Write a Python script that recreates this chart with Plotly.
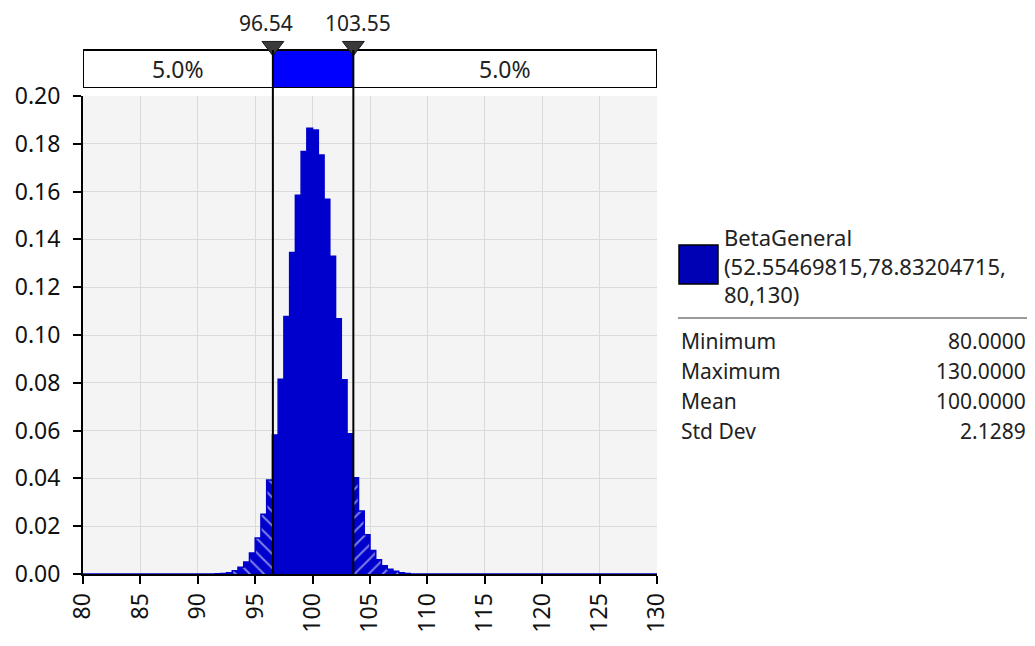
import plotly.graph_objects as go

# Fitted distribution: BetaGeneral(52.55469815, 78.83204715, 80, 130)
x_min, x_max = 80, 130
bin_width = 0.5

# density per 0.5-wide bin (left edge -> height)
bin_left = [90.5, 91.0, 91.5, 92.0, 92.5, 93.0, 93.5, 94.0, 94.5, 95.0,
            95.5, 96.0, 96.5, 97.0, 97.5, 98.0, 98.5, 99.0, 99.5, 100.0,
            100.5, 101.0, 101.5, 102.0, 102.5, 103.0, 103.5, 104.0, 104.5, 105.0,
            105.5, 106.0, 106.5, 107.0, 107.5, 108.0, 108.5]
density = [0.0000, 0.0000, 0.0001, 0.0002, 0.0005, 0.0014, 0.0028, 0.0050, 0.0088, 0.0151,
           0.0250, 0.0393, 0.0582, 0.0815, 0.1077, 0.1345, 0.1585, 0.1768, 0.1865, 0.1858,
           0.1753, 0.1568, 0.1330, 0.1068, 0.0813, 0.0587, 0.0403, 0.0264, 0.0164, 0.0098,
           0.0060, 0.0034, 0.0020, 0.0011, 0.0005, 0.0002, 0.0000]

# delimiters and tail probabilities
left_cut, right_cut = 96.54, 103.55
left_pct, right_pct = "5.0%", "5.0%"

dist_name = ["BetaGeneral", "(52.55469815,78.83204715,", "80,130)"]
stat_names = ["Minimum", "Maximum", "Mean", "Std Dev"]
stat_values = ["80.0000", "130.0000", "100.0000", "2.1289"]

FONT = "Noto Sans"
FS = 23
BLUE = "#0000CD"
TXT = "#222"

# full step outline from 80 to 130
xs = [x_min] + bin_left + [bin_left[-1] + bin_width, x_max]
ys = [0.0] + density + [0.0, 0.0]


def value_at(x):
    for i in range(len(xs) - 1):
        if xs[i] <= x < xs[i + 1]:
            return ys[i]
    return 0.0


def step_segment(lo, hi):
    sx = [lo] + [x for x in xs if lo < x < hi] + [hi]
    sy = [value_at(x) for x in sx[:-1]] + [value_at(sx[-2])]
    return sx, sy


fig = go.Figure()

lx, ly = step_segment(x_min, left_cut)
cx, cy = step_segment(left_cut, right_cut)
rx, ry = step_segment(right_cut, x_max)

hatch = dict(bgcolor=BLUE, fgcolor="white", size=10, solidity=0.2)
fig.add_trace(go.Scatter(x=lx, y=ly, mode="lines", line=dict(color=BLUE, width=1.5, shape="hv"),
                         fill="tozeroy", fillcolor=BLUE, fillpattern=dict(shape="\\", **hatch),
                         showlegend=False, hoverinfo="skip"))
fig.add_trace(go.Scatter(x=rx, y=ry, mode="lines", line=dict(color=BLUE, width=1.5, shape="hv"),
                         fill="tozeroy", fillcolor=BLUE, fillpattern=dict(shape="/", **hatch),
                         showlegend=False, hoverinfo="skip"))
fig.add_trace(go.Scatter(x=cx, y=cy, mode="lines", line=dict(color=BLUE, width=1.5, shape="hv"),
                         fill="tozeroy", fillcolor=BLUE, showlegend=False, hoverinfo="skip"))

# the page body has an 8px margin, so the figure is made 8px smaller
W, H = 1027, 638
PLOT_BOTTOM, PLOT_TOP = 574, 20
PLOT_LEFT, PLOT_RIGHT = 83, 657
BAND_TOP, BAND_BOTTOM, MARK_TOP = 50, 88, 36


def py(y):
    return (PLOT_BOTTOM - y) / (PLOT_BOTTOM - PLOT_TOP)


def px(x):
    return (x - PLOT_LEFT) / (PLOT_RIGHT - PLOT_LEFT)


# band axis: 0..1 is the band itself, the rest above holds the delimiter markers
band_top_val = (BAND_BOTTOM - MARK_TOP) / (BAND_BOTTOM - BAND_TOP)

fig.add_trace(go.Scatter(x=[left_cut, right_cut], y=[1.1, 1.1], xaxis="x", yaxis="y2", mode="markers",
                         marker=dict(symbol="triangle-down", size=19, color="#3a3a3a",
                                     line=dict(color="#1a1a1a", width=1)),
                         cliponaxis=False, showlegend=False, hoverinfo="skip"))

shapes = [
    # white out the band subplot, then the probability band
    dict(type="rect", xref="x", yref="y2", x0=x_min, x1=x_max, y0=0, y1=band_top_val,
         fillcolor="white", line=dict(width=0), layer="between"),
    dict(type="rect", xref="x", yref="y2", x0=left_cut, x1=right_cut, y0=0, y1=1,
         fillcolor="#0000FF", line=dict(width=0), layer="between"),
    dict(type="rect", xref="x", yref="y2", x0=x_min, x1=x_max, y0=0, y1=1,
         fillcolor="rgba(0,0,0,0)", line=dict(color="black", width=2), layer="between"),
]
for c in [left_cut, right_cut]:
    shapes.append(dict(type="line", xref="x", yref="paper", x0=c, x1=c, y0=0, y1=py(BAND_TOP),
                       line=dict(color="black", width=2)))

# legend swatch and divider
shapes.append(dict(type="rect", xref="paper", yref="paper", x0=px(679), x1=px(718), y0=py(284), y1=py(245),
                   fillcolor="#0000B4", line=dict(color="black", width=1.5)))
shapes.append(dict(type="line", xref="paper", yref="paper", x0=px(678), x1=px(1035), y0=py(318), y1=py(318),
                   line=dict(color="#9a9a9a", width=2)))

annotations = [
    dict(x=left_cut, y=py(23), xref="x", yref="paper", text=f"{left_cut:.2f}", showarrow=False,
         xanchor="center", yanchor="middle", xshift=-7, font=dict(size=FS - 2, color=TXT)),
    dict(x=right_cut, y=py(23), xref="x", yref="paper", text=f"{right_cut:.2f}", showarrow=False,
         xanchor="center", yanchor="middle", xshift=5, font=dict(size=FS - 2, color=TXT)),
    dict(x=(x_min + left_cut) / 2, y=0.5, xref="x", yref="y2", text=left_pct, showarrow=False,
         xanchor="center", yanchor="middle", font=dict(size=FS, color=TXT)),
    dict(x=(right_cut + x_max) / 2, y=0.5, xref="x", yref="y2", text=right_pct, showarrow=False,
         xanchor="center", yanchor="middle", font=dict(size=FS, color=TXT)),
    # distribution name, one block of wrapped text
    dict(x=px(722), y=py(265), xref="paper", yref="paper", text="<br>".join(dist_name),
         showarrow=False, xanchor="left", yanchor="middle", align="left",
         font=dict(size=FS - 1, color=TXT)),
]
for i, (n, v) in enumerate(zip(stat_names, stat_values)):
    annotations.append(dict(x=px(679), y=py(341 + 30 * i), xref="paper", yref="paper", text=n,
                            showarrow=False, xanchor="left", yanchor="middle",
                            font=dict(size=FS - 2, color=TXT)))
    annotations.append(dict(x=px(1028), y=py(341 + 30 * i), xref="paper", yref="paper", text=v,
                            showarrow=False, xanchor="right", yanchor="middle",
                            font=dict(size=FS - 2, color=TXT)))

fig.update_layout(
    width=W, height=H,
    margin=dict(l=PLOT_LEFT - 8, r=1035 - PLOT_RIGHT, t=PLOT_TOP - 8, b=646 - PLOT_BOTTOM, autoexpand=False),
    paper_bgcolor="white", plot_bgcolor="#F4F4F4",
    font=dict(family=FONT, size=FS, color=TXT),
    showlegend=False,
    xaxis=dict(range=[x_min, x_max], dtick=5, tick0=80, tickangle=-90, ticks="outside", ticklen=8,
               tickwidth=2, tickcolor="black", showline=True, linecolor="black", linewidth=2,
               gridcolor="#DADADA", gridwidth=1, zeroline=False, anchor="y", automargin=False,
               tickfont=dict(color="#111")),
    yaxis=dict(range=[0, 0.2], dtick=0.02, tickformat=".2f", ticks="outside", ticklen=8,
               tickwidth=2, tickcolor="black", showline=True, linecolor="black", linewidth=2,
               gridcolor="#DADADA", gridwidth=1, zeroline=False, domain=[0, py(96)],
               ticklabelstandoff=8, automargin=False, tickfont=dict(color="#111")),
    yaxis2=dict(range=[0, band_top_val], domain=[py(BAND_BOTTOM), py(MARK_TOP)], anchor="x",
                showticklabels=False, showgrid=False, zeroline=False, showline=False, ticks="",
                automargin=False),
    shapes=shapes,
    annotations=annotations,
)

fig.write_html("out.html")
